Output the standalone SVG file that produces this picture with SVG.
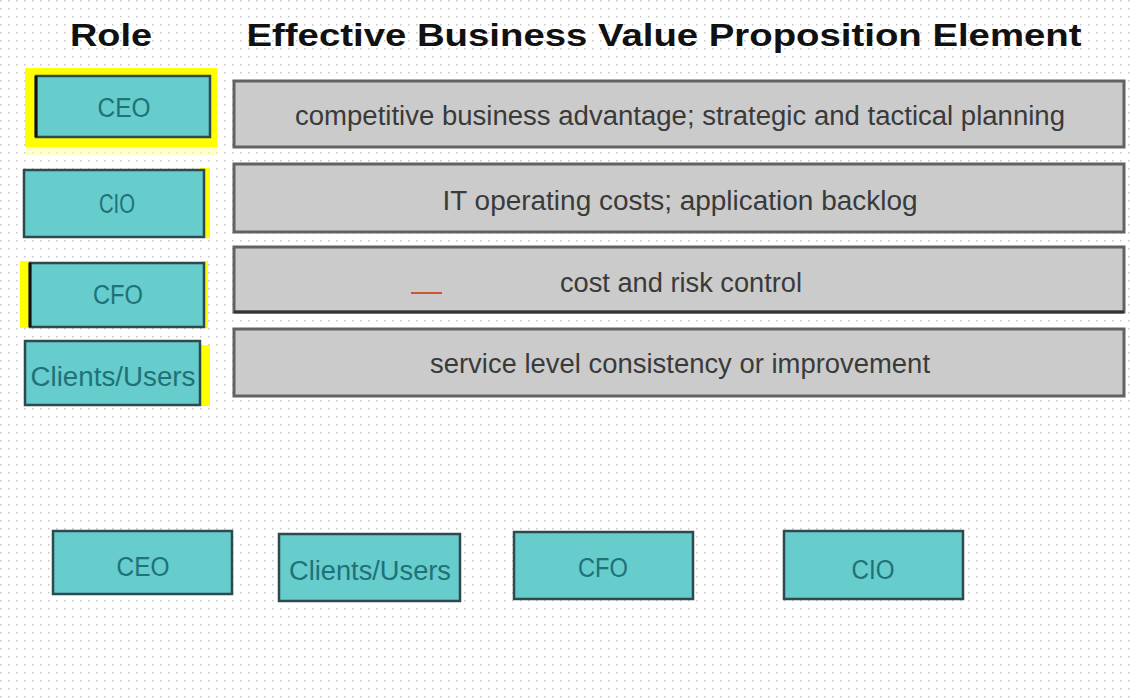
<svg xmlns="http://www.w3.org/2000/svg" width="1136" height="698" viewBox="0 0 1136 698">
<defs>
<pattern id="dots" width="8" height="8" patternUnits="userSpaceOnUse">
<rect x="0" y="0" width="1.5" height="1.5" fill="#c8c8c8"/>
</pattern>
</defs>
<style>
.title{font-family:"Liberation Sans",Arial,sans-serif;font-weight:bold;font-size:32px;fill:#111}
.role{fill:#66cccc;stroke:#2e4a4e;stroke-width:2.5}
.roletxt{font-family:"Liberation Sans",Arial,sans-serif;font-size:27px;fill:#1e7278;text-anchor:middle}
.elem{fill:#cbcbcb;stroke:#626262;stroke-width:3}
.elemtxt{font-family:"Liberation Sans",Arial,sans-serif;font-size:27px;fill:#3a3a3a;text-anchor:middle}
.hl{fill:#ffff00}
</style>
<rect width="1136" height="698" fill="#ffffff"/>
<rect width="1136" height="698" fill="url(#dots)"/>

<g id="headers">
<text class="title" x="111" y="46" text-anchor="middle" textLength="82" lengthAdjust="spacingAndGlyphs">Role</text>
<text class="title" x="664" y="46" text-anchor="middle" textLength="835" lengthAdjust="spacingAndGlyphs">Effective Business Value Proposition Element</text>
</g>

<g id="role-ceo">
<rect x="25" y="147" width="192" height="8" fill="#ffffaa" opacity="0.6"/>
<rect class="hl" x="25" y="68" width="192" height="79"/>
<rect class="role" x="36" y="76" width="174" height="61"/>
<line x1="36" y1="76" x2="36" y2="137" stroke="#111" stroke-width="3"/>
<text class="roletxt" x="124" y="117" textLength="53" lengthAdjust="spacingAndGlyphs">CEO</text>
</g>

<g id="role-cio">
<rect class="hl" x="200" y="168" width="10" height="70"/>
<rect class="role" x="24" y="170" width="180" height="67"/>
<text class="roletxt" x="117" y="213" textLength="36" lengthAdjust="spacingAndGlyphs">CIO</text>
</g>

<g id="role-cfo">
<rect class="hl" x="20" y="261" width="12" height="67"/>
<rect class="hl" x="201" y="261" width="7" height="67"/>
<rect class="role" x="30" y="263" width="174" height="64"/>
<line x1="30" y1="263" x2="30" y2="327" stroke="#111" stroke-width="3"/>
<text class="roletxt" x="118" y="304" textLength="50" lengthAdjust="spacingAndGlyphs">CFO</text>
</g>

<g id="role-clients">
<rect class="hl" x="197" y="345" width="13" height="61"/>
<rect class="role" x="25" y="341" width="175" height="64"/>
<text class="roletxt" x="113" y="386" textLength="165" lengthAdjust="spacingAndGlyphs">Clients/Users</text>
</g>

<g id="elem-1">
<rect class="elem" x="234" y="81" width="890" height="66"/>
<text class="elemtxt" x="680" y="125" textLength="770" lengthAdjust="spacingAndGlyphs">competitive business advantage; strategic and tactical planning</text>
</g>

<g id="elem-2">
<rect class="elem" x="234" y="164" width="890" height="68"/>
<text class="elemtxt" x="680" y="210" textLength="475" lengthAdjust="spacingAndGlyphs">IT operating costs; application backlog</text>
</g>

<g id="elem-3">
<rect class="elem" x="234" y="247" width="890" height="65"/>
<line x1="234" y1="312" x2="1124" y2="312" stroke="#333" stroke-width="3"/>
<text class="elemtxt" x="681" y="292" textLength="242" lengthAdjust="spacingAndGlyphs">cost and risk control</text>
<line x1="411" y1="293" x2="442" y2="293" stroke="#cc5533" stroke-width="2"/>
</g>

<g id="elem-4">
<rect class="elem" x="234" y="329" width="890" height="67"/>
<text class="elemtxt" x="680" y="373" textLength="500" lengthAdjust="spacingAndGlyphs">service level consistency or improvement</text>
</g>

<g id="card-ceo">
<rect class="role" x="53" y="531" width="179" height="63"/>
<text class="roletxt" x="143" y="576" textLength="53" lengthAdjust="spacingAndGlyphs">CEO</text>
</g>

<g id="card-clients">
<rect class="role" x="279" y="534" width="181" height="67"/>
<text class="roletxt" x="370" y="580" textLength="162" lengthAdjust="spacingAndGlyphs">Clients/Users</text>
</g>

<g id="card-cfo">
<rect class="role" x="514" y="532" width="179" height="67"/>
<text class="roletxt" x="603" y="577" textLength="50" lengthAdjust="spacingAndGlyphs">CFO</text>
</g>

<g id="card-cio">
<rect class="role" x="784" y="531" width="179" height="68"/>
<text class="roletxt" x="873" y="579" textLength="43" lengthAdjust="spacingAndGlyphs">CIO</text>
</g>

<g id="connectors"></g>
</svg>
